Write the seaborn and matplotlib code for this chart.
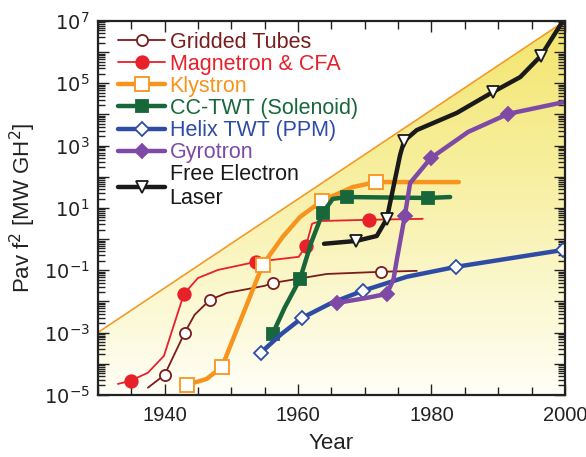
"""
Power-frequency-squared figure of merit for vacuum electron devices vs year.
"""
import numpy as np
import matplotlib
matplotlib.use("Agg")
import matplotlib.pyplot as plt
import matplotlib.ticker as mticker
from matplotlib.patches import Polygon
from matplotlib.colors import LinearSegmentedColormap
import seaborn as sns

# ---- data (year, log10 of Pav f^2) ----
grid_years = [1937.5, 1940.0, 1943.0, 1944.5, 1946.8, 1949.3, 1955.0, 1956.2, 1964.3, 1972.4, 1977.8]
grid_logs = [-4.77, -4.36, -3.01, -2.43, -1.95, -1.73, -1.50, -1.41, -1.12, -1.05, -1.02]
grid_marks = [1, 2, 4, 7, 9]

mag_years = [1933.0, 1934.9, 1937.5, 1939.9, 1942.9, 1945.0, 1948.0, 1953.7, 1960.1, 1961.2, 1962.1, 1963.3, 1970.6, 1978.7]
mag_logs = [-4.65, -4.55, -4.29, -3.75, -1.76, -1.25, -0.99, -0.73, -0.57, -0.22, 0.49, 0.58, 0.62, 0.65]
mag_marks = [1, 4, 7, 9, 12]

kly_years = [1943.3, 1946.3, 1948.6, 1954.7, 1957.7, 1960.3, 1963.6, 1968.2, 1971.7, 1984.1]
kly_logs = [-4.68, -4.49, -4.10, -0.83, 0.07, 0.71, 1.23, 1.67, 1.83, 1.83]
kly_marks = [0, 2, 3, 6, 8]

cc_years = [1956.2, 1958.0, 1960.3, 1962.0, 1963.7, 1965.2, 1967.3, 1979.5, 1982.8]
cc_logs = [-3.04, -2.20, -1.28, -0.10, 0.84, 1.29, 1.35, 1.32, 1.35]
cc_marks = [0, 2, 4, 6, 7]

helix_years = [1954.4, 1957.5, 1960.6, 1965.0, 1969.7, 1976.3, 1983.7, 1999.7]
helix_logs = [-3.65, -3.05, -2.53, -2.05, -1.66, -1.21, -0.89, -0.35]
helix_marks = [0, 2, 4, 6, 7]

gyro_years = [1965.8, 1970.0, 1973.3, 1974.3, 1974.8, 1976.0, 1976.8, 1979.9, 1985.5, 1991.5, 1999.9]
gyro_logs = [-2.05, -1.90, -1.76, -1.30, -0.67, 0.74, 1.80, 2.60, 3.44, 4.02, 4.40]
gyro_marks = [0, 2, 5, 7, 9]

fel_years = [1963.9, 1968.7, 1971.8, 1973.3, 1975.3, 1975.9, 1977.8, 1983.8, 1989.2, 1993.3, 1996.4, 1999.7]
fel_logs = [-0.15, -0.06, 0.10, 0.65, 2.70, 3.15, 3.50, 4.05, 4.72, 5.20, 5.88, 7.00]
fel_marks = [1, 3, 5, 8, 10]

limit_years = [1930, 2000]
limit_vals = [1e-3, 1e7]

x_ticks = [1940, 1960, 1980, 2000]

sns.set_style("ticks")
plt.rcParams["font.family"] = ["Liberation Sans", "DejaVu Sans"]

fig, ax = plt.subplots(figsize=(5.86, 4.57), dpi=100)
fig.subplots_adjust(left=0.167, right=0.964, top=0.954, bottom=0.136)

ax.set_yscale("log")
ax.set_xlim(1930, 2000)
ax.set_ylim(1e-5, 1e7)

# yellow gradient under the limit line
tri = Polygon([(limit_years[0], limit_vals[0]), (limit_years[1], limit_vals[1]),
               (limit_years[1], 1e-5), (limit_years[0], 1e-5)],
              closed=True, facecolor="none", edgecolor="#f39a2a", lw=1.2,
              transform=ax.transData, zorder=1)
ax.add_patch(tri)
cmap = LinearSegmentedColormap.from_list("yel", ["#fffff8", "#fbf7cc", "#f7ee9a", "#f3e56e"])
grad = np.linspace(0, 1, 256).reshape(-1, 1) ** 0.9
img = ax.imshow(grad, cmap=cmap, extent=[0, 1, 0, 1], transform=ax.transAxes,
                origin="lower", aspect="auto", zorder=0)
img.set_clip_path(tri)

series = [
    ("Gridded Tubes", grid_years, grid_logs, grid_marks, "#7a1c1c", 1.3, "o", 8, "white"),
    ("Magnetron & CFA", mag_years, mag_logs, mag_marks, "#e8202a", 1.3, "o", 9, None),
    ("Klystron", kly_years, kly_logs, kly_marks, "#f7941d", 3.2, "s", 10, "white"),
    ("CC-TWT (Solenoid)", cc_years, cc_logs, cc_marks, "#17673a", 3.2, "s", 9, None),
    ("Helix TWT (PPM)", helix_years, helix_logs, helix_marks, "#2e4ca6", 3.2, "D", 7, "white"),
    ("Gyrotron", gyro_years, gyro_logs, gyro_marks, "#7e4aa6", 3.2, "D", 7, None),
    ("Free Electron\nLaser", fel_years, fel_logs, fel_marks, "#1a1a1a", 3.2, "v", 8, "white"),
]

for name, xs, ls, marks, col, lw, mk, ms, face in series:
    sns.lineplot(x=xs, y=10 ** np.array(ls), sort=False, estimator=None, ax=ax,
                 color=col, lw=lw, marker=mk, markevery=marks, ms=ms,
                 mfc=face if face else col, mec=col, mew=1.3, label=name, zorder=3)

leg = ax.legend(loc="upper left", bbox_to_anchor=(0.02, 1.0), frameon=False,
                fontsize=15.5, labelspacing=0.05, handlelength=2.2, handletextpad=0.2,
                borderaxespad=0.1)
for txt, s in zip(leg.get_texts(), series):
    txt.set_color(s[4])

ax.set_xticks(x_ticks)
ax.xaxis.set_minor_locator(mticker.MultipleLocator(5))
ax.yaxis.set_major_locator(mticker.LogLocator(base=10, numticks=20))
ax.yaxis.set_minor_locator(mticker.LogLocator(base=10, subs=np.arange(2, 10), numticks=20))


def ylab(v, pos):
    e = int(round(np.log10(v)))
    return r"$10^{%d}$" % e if e % 2 else ""


ax.yaxis.set_major_formatter(mticker.FuncFormatter(ylab))
ax.yaxis.set_minor_formatter(mticker.NullFormatter())
ax.tick_params(which="both", direction="in", top=True, right=True, width=1.0, colors="#222222")
ax.tick_params(which="major", length=8, labelsize=14, pad=6)
ax.tick_params(axis="x", which="major", labelsize=14.5, pad=8)
ax.tick_params(which="minor", length=5)
ax.tick_params(axis="x", which="minor", length=6)

ax.set_xlabel("Year", fontsize=16, color="#222222", labelpad=6)
ax.set_ylabel("Pav f$^2$ [MW GH$^2$]", fontsize=16, color="#222222", labelpad=4)
for sp in ax.spines.values():
    sp.set_linewidth(1.6)
    sp.set_color("#222222")
    sp.set_zorder(4)

plt.savefig("out.png", dpi=100)
